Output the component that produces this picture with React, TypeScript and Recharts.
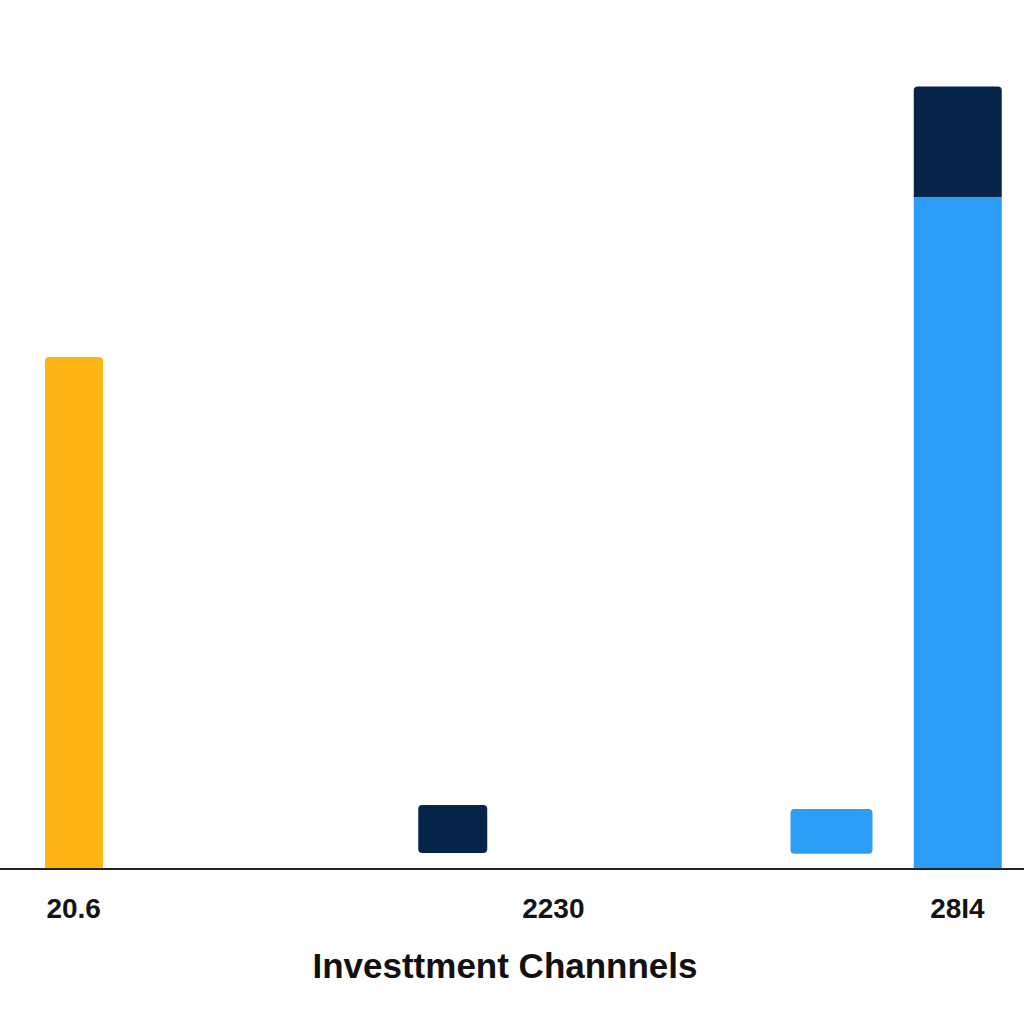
import React from 'react';
import { BarChart, Bar, XAxis, YAxis, Cell } from 'recharts';

// category slots along the x axis; ticks and bars sit on some of them
const slotCount = 36;
const tickSlots = [0, 19, 35];
const tickLabels = ['20.6', '2230', '28I4'];

const barSlots = [0, 15, 30, 35];
const barLows = [0, 2, 1.9, 0];
const barHighs = [64, 8, 7.5, 84];
const capHighs: Array<number | null> = [null, null, null, 97.8];

const barColors = ['#FDB515', '#062448', '#2C9EF6', '#2D9CF4'];
const capColor = '#062448';
const barWidths = [58, 69, 82, 88];

const rows = Array.from({ length: slotCount }, (_, slot) => {
  const t = tickSlots.indexOf(slot);
  const b = barSlots.indexOf(slot);
  const cap = b >= 0 ? capHighs[b] : null;
  return {
    slot,
    label: t >= 0 ? tickLabels[t] : '',
    base: b >= 0 ? barLows[b] : null,
    body: b >= 0 ? barHighs[b] - barLows[b] : null,
    cap: b >= 0 && cap != null ? cap - barHighs[b] : null,
    bar: b,
  };
});

const topRounded = (x: number, y: number, w: number, h: number, r: number) =>
  `M${x},${y + h} L${x},${y + r} Q${x},${y} ${x + r},${y} L${x + w - r},${y} Q${x + w},${y} ${x + w},${y + r} L${x + w},${y + h} Z`;

const BodyShape = (props: any) => {
  const { x, y, width, height, fill, payload } = props;
  if (!height || payload.bar < 0) return <g />;
  const w = barWidths[payload.bar];
  const cx = x + width / 2;
  const left = cx - w / 2;
  if (payload.base > 0) {
    return <rect x={left} y={y} width={w} height={height} rx={4} ry={4} fill={fill} />;
  }
  if (payload.cap) {
    return <rect x={left} y={y} width={w} height={height} fill={fill} />;
  }
  return <path d={topRounded(left, y, w, height, 4)} fill={fill} />;
};

const CapShape = (props: any) => {
  const { x, y, width, height, fill, payload } = props;
  if (!height || payload.bar < 0) return <g />;
  const w = barWidths[payload.bar];
  const left = x + width / 2 - w / 2;
  return <path d={topRounded(left, y, w, height, 4)} fill={fill} />;
};

const TickLabel = ({ x, y, payload }: any) => {
  const label = rows[payload.value]?.label;
  if (!label) return <g />;
  return (
    <text
      x={x}
      y={y}
      dy={49}
      textAnchor="middle"
      fill="#141414"
      style={{ fontFamily: '"Liberation Sans", Arial, sans-serif', fontWeight: 700, fontSize: 28 }}
    >
      {label}
    </text>
  );
};

const AxisTitle = ({ viewBox }: any) => {
  const { x, y, width } = viewBox;
  return (
    <text
      x={x + width / 2 - 7}
      y={y + 109}
      textAnchor="middle"
      fill="#111111"
      style={{ fontFamily: '"Liberation Sans", Arial, sans-serif', fontWeight: 700, fontSize: 35 }}
    >
      Investtment Channnels
    </text>
  );
};

export default function App() {
  return (
    <div style={{ position: 'absolute', left: 0, top: 0, width: 1024, height: 1024, background: '#fff' }}>
      <BarChart
        width={1024}
        height={1024}
        data={rows}
        margin={{ top: 69, right: 0, bottom: 0, left: 0 }}
      >
        <XAxis
          dataKey="slot"
          type="category"
          height={155}
          padding={{ left: 61, right: 54 }}
          interval={0}
          tickLine={false}
          tickSize={0}
          tickMargin={0}
          axisLine={{ stroke: '#222222', strokeWidth: 2 }}
          tick={<TickLabel />}
          label={<AxisTitle />}
        />
        <YAxis hide domain={[0, 100]} allowDataOverflow />
        <Bar dataKey="base" stackId="s" fill="transparent" barSize={20} isAnimationActive={false} />
        <Bar dataKey="body" stackId="s" barSize={20} shape={<BodyShape />} isAnimationActive={false}>
          {rows.map((r, i) => (
            <Cell key={`body-${i}`} fill={r.bar >= 0 ? barColors[r.bar] : 'transparent'} />
          ))}
        </Bar>
        <Bar dataKey="cap" stackId="s" barSize={20} fill={capColor} shape={<CapShape />} isAnimationActive={false} />
      </BarChart>
    </div>
  );
}
